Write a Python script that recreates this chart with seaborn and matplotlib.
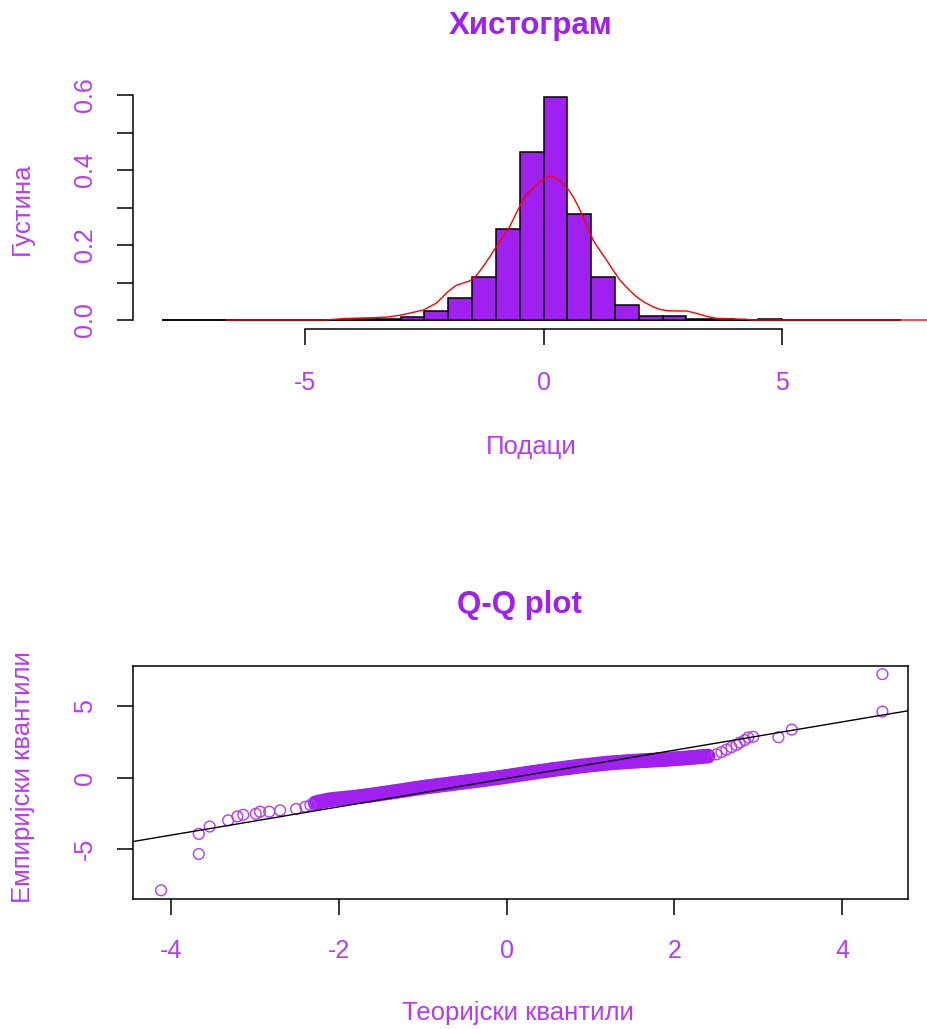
import matplotlib
matplotlib.use("Agg")
import matplotlib.pyplot as plt
import seaborn as sns

# ---------------- data ----------------
hist_edges = [-8.0, -7.5, -7.0, -6.5, -6.0, -5.5, -5.0, -4.5, -4.0, -3.5, -3.0, -2.5,
              -2.0, -1.5, -1.0, -0.5, 0.0, 0.5, 1.0, 1.5, 2.0, 2.5, 3.0, 3.5, 4.0,
              4.5, 5.0, 5.5, 6.0, 6.5, 7.0, 7.5]
hist_density = [0.001, 0.0, 0.0, 0.0, 0.0, 0.001, 0.0, 0.0, 0.004, 0.004, 0.007, 0.024,
                0.058, 0.114, 0.242, 0.449, 0.596, 0.284, 0.114, 0.040, 0.012, 0.012,
                0.004, 0.003, 0.001, 0.003, 0.0, 0.0, 0.0, 0.0, 0.001]

kde_x = [-6.66, -4.6, -4.15, -3.6, -3.27, -3.0, -2.75, -2.51, -2.25, -2.01, -1.84, -1.7,
         -1.55, -1.4, -1.27, -1.13, -0.99, -0.85, -0.71, -0.59, -0.47, -0.35, -0.22, -0.08,
         0.06, 0.16, 0.28, 0.41, 0.52, 0.62, 0.73, 0.83, 0.94, 1.04, 1.18, 1.32, 1.46, 1.6,
         1.78, 1.95, 2.12, 2.3, 2.45, 2.58, 2.8, 3.0, 3.14, 3.28, 3.45, 3.63, 3.9, 4.25,
         4.4, 8.5]
kde_y = [0.0, 0.0, 0.004, 0.006, 0.008, 0.013, 0.02, 0.027, 0.045, 0.075, 0.092, 0.098,
         0.104, 0.12, 0.142, 0.168, 0.196, 0.222, 0.249, 0.28, 0.311, 0.335, 0.351, 0.368,
         0.380, 0.384, 0.377, 0.364, 0.348, 0.329, 0.303, 0.275, 0.243, 0.213, 0.186, 0.160,
         0.133, 0.107, 0.082, 0.062, 0.047, 0.035, 0.028, 0.025, 0.024, 0.024, 0.02, 0.015,
         0.009, 0.0045, 0.003, 0.002, 0.0, 0.0]

# sparse tail points of the Q-Q plot
qq_tail_theoretical = [-4.12, -3.67, -3.67, -3.54, -3.32, -3.21, -3.14, -2.99, -2.94,
                       -2.83, -2.70, -2.51, -2.40, -2.34,
                       2.50, 2.56, 2.62, 2.68, 2.74, 2.78, 2.84, 2.88, 2.94, 3.24, 3.40,
                       4.48, 4.48]
qq_tail_empirical = [-7.89, -5.35, -3.94, -3.43, -3.00, -2.72, -2.61, -2.54, -2.39,
                     -2.39, -2.30, -2.20, -2.05, -1.92,
                     1.62, 1.78, 1.95, 2.12, 2.28, 2.44, 2.62, 2.80, 2.85, 2.82, 3.35,
                     4.61, 7.23]
# dense central band of the Q-Q plot
qq_band_theoretical = [
    -2.28, -2.24, -2.20, -2.16, -2.12, -2.08, -2.04, -2.00, -1.96, -1.92, -1.88, -1.84,
    -1.80, -1.76, -1.72, -1.68, -1.64, -1.60, -1.56, -1.52, -1.48, -1.44, -1.40, -1.36,
    -1.32, -1.28, -1.24, -1.20, -1.16, -1.12, -1.08, -1.04, -1.00, -0.96, -0.92, -0.88,
    -0.84, -0.80, -0.76, -0.72, -0.68, -0.64, -0.60, -0.56, -0.52, -0.48, -0.44, -0.40,
    -0.36, -0.32, -0.28, -0.24, -0.20, -0.16, -0.12, -0.08, -0.04, 0.00, 0.04, 0.08,
    0.12, 0.16, 0.20, 0.24, 0.28, 0.32, 0.36, 0.40, 0.44, 0.48, 0.52, 0.56, 0.60, 0.64,
    0.68, 0.72, 0.76, 0.80, 0.84, 0.88, 0.92, 0.96, 1.00, 1.04, 1.08, 1.12, 1.16, 1.20,
    1.24, 1.28, 1.32, 1.36, 1.40, 1.44, 1.48, 1.52, 1.56, 1.60, 1.64, 1.68, 1.72, 1.76,
    1.80, 1.84, 1.88, 1.92, 1.96, 2.00, 2.04, 2.08, 2.12, 2.16, 2.20, 2.24, 2.28, 2.32,
    2.36, 2.40]
qq_band_empirical = [
    -1.78, -1.72, -1.66, -1.62, -1.57, -1.54, -1.51, -1.49, -1.47, -1.44, -1.42, -1.40,
    -1.37, -1.34, -1.31, -1.28, -1.25, -1.22, -1.18, -1.15, -1.11, -1.08, -1.05, -1.01,
    -0.98, -0.94, -0.91, -0.87, -0.83, -0.80, -0.76, -0.73, -0.69, -0.66, -0.63, -0.60,
    -0.57, -0.54, -0.51, -0.48, -0.45, -0.42, -0.39, -0.36, -0.33, -0.30, -0.27, -0.24,
    -0.21, -0.18, -0.15, -0.12, -0.09, -0.06, -0.03, 0.01, 0.04, 0.08, 0.11, 0.15,
    0.18, 0.22, 0.25, 0.29, 0.32, 0.36, 0.39, 0.43, 0.46, 0.49, 0.53, 0.56, 0.59, 0.62,
    0.65, 0.68, 0.71, 0.74, 0.77, 0.80, 0.82, 0.85, 0.88, 0.90, 0.93, 0.95, 0.98, 1.00,
    1.02, 1.04, 1.06, 1.07, 1.09, 1.11, 1.12, 1.14, 1.15, 1.17, 1.18, 1.19, 1.21, 1.22,
    1.24, 1.25, 1.26, 1.28, 1.29, 1.31, 1.33, 1.34, 1.36, 1.38, 1.40, 1.42, 1.44, 1.46,
    1.48, 1.50]

qq_line_intercept = -0.07
qq_line_slope = 0.99

hist_ytick_values = [0.0, 0.1, 0.2, 0.3, 0.4, 0.5, 0.6]
hist_ytick_labels = ["0.0", "", "0.2", "", "0.4", "", "0.6"]
hist_xtick_values = [-5, 0, 5]
hist_xtick_labels = ["-5", "0", "5"]
qq_xtick_values = [-4, -2, 0, 2, 4]
qq_xtick_labels = ["-4", "-2", "0", "2", "4"]
qq_ytick_values = [-5, 0, 5]
qq_ytick_labels = ["-5", "0", "5"]

title_hist = "Хистограм"
xlabel_hist = "Подаци"
ylabel_hist = "Густина"
title_qq = "Q-Q plot"
xlabel_qq = "Теоријски квантили"
ylabel_qq = "Емпиријски квантили"

# ---------------- style ----------------
sns.set_style("white")
plt.rcParams["font.family"] = ["Liberation Sans", "DejaVu Sans"]

PURPLE = "#A020F0"
TEXT = "#B43CF6"
FS_TICK = 18
FS_LAB = 18.5
FS_TITLE = 22.5

W, H = 927, 1029
fig = plt.figure(figsize=(W / 100, H / 100), dpi=100)
fig.patch.set_facecolor("white")


def fx(px):
    return px / W


def fy(py):
    return 1 - py / H


# ---------------- histogram ----------------
ax1 = fig.add_axes([fx(132.7), fy(329), fx(930.5 - 132.7), (329 - 86) / H])
ax1.set_facecolor("white")
centers = [(a + b) / 2 for a, b in zip(hist_edges[:-1], hist_edges[1:])]
ax1.hlines(0, hist_edges[0], hist_edges[-1], color="black", linewidth=1.1, zorder=1)
sns.histplot(x=centers, weights=hist_density, bins=hist_edges, stat="count",
             color=PURPLE, edgecolor="black", linewidth=1.1, alpha=1.0, ax=ax1, zorder=2)
sns.lineplot(x=kde_x, y=kde_y, color="red", linewidth=1.0, ax=ax1, sort=False, zorder=3)
ax1.set_xlim(-8.62, 8.12)
ax1.set_ylim(-0.024, 0.624)
for s in ["top", "right"]:
    ax1.spines[s].set_visible(False)
ax1.spines["left"].set_bounds(0, 0.6)
ax1.spines["bottom"].set_bounds(-5, 5)
for s in ["left", "bottom"]:
    ax1.spines[s].set_color("black")
    ax1.spines[s].set_linewidth(1.1)
ax1.set_yticks(hist_ytick_values)
ax1.set_yticklabels(hist_ytick_labels)
ax1.set_xticks(hist_xtick_values)
ax1.set_xticklabels(hist_xtick_labels)
ax1.tick_params(axis="both", direction="out", length=11.5, width=1.1, color="black",
                labelsize=FS_TICK, labelcolor=TEXT, left=True, bottom=True)
ax1.tick_params(axis="y", pad=14, labelrotation=90)
ax1.tick_params(axis="x", pad=19)
for lab in ax1.get_yticklabels():
    lab.set_va("center")
ax1.set_xlabel("")
ax1.set_ylabel("")

fig.text(fx(531), fy(26), title_hist, ha="center", va="center", fontsize=FS_TITLE,
         fontweight="bold", color=PURPLE)
fig.text(fx(531), fy(447), xlabel_hist, ha="center", va="center", fontsize=FS_LAB, color=TEXT)
fig.text(fx(22), fy(209), ylabel_hist, ha="center", va="center", rotation=90,
         fontsize=FS_LAB, color=TEXT)

# ---------------- Q-Q plot ----------------
ax2 = fig.add_axes([fx(132.5), fy(899.3), fx(908 - 132.5), (899.3 - 666) / H])
ax2.set_facecolor("white")
sns.scatterplot(x=qq_band_theoretical, y=qq_band_empirical, marker="o", s=66,
                facecolor="none", edgecolor=PURPLE, linewidth=2.6, ax=ax2, zorder=2)
sns.scatterplot(x=qq_tail_theoretical, y=qq_tail_empirical, marker="o", s=60,
                facecolor="none", edgecolor=TEXT, linewidth=1.0, ax=ax2, zorder=2)
ax2.axline((0, qq_line_intercept), slope=qq_line_slope, color="black", linewidth=1.0, zorder=3)
ax2.set_xlim(-4.46, 4.785)
ax2.set_ylim(-8.52, 7.80)
for s in ax2.spines.values():
    s.set_visible(True)
    s.set_color("black")
    s.set_linewidth(1.1)
ax2.set_xticks(qq_xtick_values)
ax2.set_xticklabels(qq_xtick_labels)
ax2.set_yticks(qq_ytick_values)
ax2.set_yticklabels(qq_ytick_labels)
ax2.tick_params(axis="both", direction="out", length=11.5, width=1.1, color="black",
                labelsize=FS_TICK, labelcolor=TEXT, left=True, bottom=True)
ax2.tick_params(axis="y", pad=14, labelrotation=90)
ax2.tick_params(axis="x", pad=17)
for lab in ax2.get_yticklabels():
    lab.set_va("center")
ax2.set_xlabel("")
ax2.set_ylabel("")

fig.text(fx(519), fy(605), title_qq, ha="center", va="center", fontsize=FS_TITLE,
         fontweight="bold", color=PURPLE)
fig.text(fx(518), fy(1013), xlabel_qq, ha="center", va="center", fontsize=FS_LAB, color=TEXT)
fig.text(fx(23), fy(777), ylabel_qq, ha="center", va="center", rotation=90,
         fontsize=FS_LAB, color=TEXT)

fig.savefig("out.png", dpi=100, facecolor="white")
